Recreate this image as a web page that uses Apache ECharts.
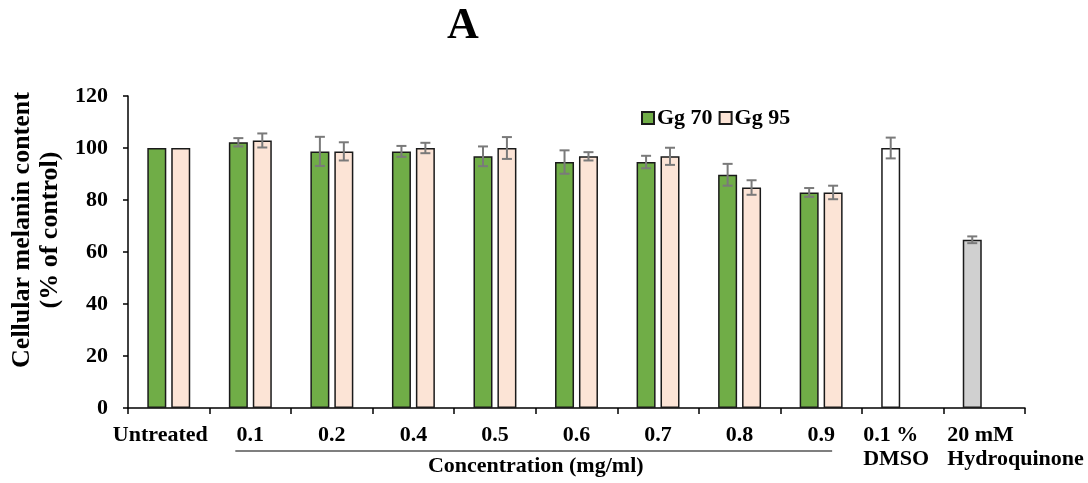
<!DOCTYPE html>
<html><head><meta charset="utf-8">
<script src="https://cdn.jsdelivr.net/npm/echarts@6/dist/echarts.min.js"></script>
<style>html,body{margin:0;padding:0;background:#fff}#c{width:1088px;height:483px}</style>
</head><body><div id="c"></div>
<script>
var categories = ['Untreated','0.1','0.2','0.4','0.5','0.6','0.7','0.8','0.9','0.1 %\nDMSO','20 mM\nHydroquinone'];
var gg70 = [100, 102.2, 98.7, 98.7, 96.8, 94.6, 94.6, 89.7, 82.9];
var gg70Err = [0, 1.6, 5.6, 2.1, 3.8, 4.5, 2.4, 4.2, 1.7];
var gg95 = [100, 102.9, 98.7, 100, 100, 96.8, 96.8, 84.8, 82.9];
var gg95Err = [0, 2.7, 3.5, 2.0, 4.2, 1.6, 3.3, 2.8, 2.6];
var controlNames = ['0.1 %\nDMSO', '20 mM\nHydroquinone'];
var controlValues = [100, 64.7];
var controlErr = [4.0, 1.3];
var controlColors = ['#ffffff', '#d0d0d0'];
var yTicks = [0, 20, 40, 60, 80, 100, 120];

var FONT = '"Liberation Serif", "Times New Roman", serif';
var BAR_W = 19, GAP_PCT = 26;
var OFF = (BAR_W + BAR_W * GAP_PCT / 100) / 2;

var s1 = [], e1 = [], s2 = [], e2 = [];
for (var i = 0; i < categories.length; i++) {
  var ci = controlNames.indexOf(categories[i]);
  if (ci >= 0) {
    s1.push({value: controlValues[ci], itemStyle: {color: controlColors[ci]}});
    e1.push([i, controlValues[ci], controlErr[ci]]);
    s2.push('-');
  } else {
    s1.push(gg70[i]); s2.push(gg95[i]);
    if (gg70Err[i] > 0) e1.push([i, gg70[i], gg70Err[i]]);
    if (gg95Err[i] > 0) e2.push([i, gg95[i], gg95Err[i]]);
  }
}

function errRender(offset) {
  return function (params, api) {
    var x = api.value(0), m = api.value(1), e = api.value(2);
    var hi = api.coord([x, m + e]), lo = api.coord([x, m - e]);
    var cx = hi[0] + offset, w = 5;
    var st = {stroke: '#7a7a7a', lineWidth: 2};
    return {type: 'group', children: [
      {type: 'line', shape: {x1: cx, y1: hi[1], x2: cx, y2: lo[1]}, style: st},
      {type: 'line', shape: {x1: cx - w, y1: hi[1], x2: cx + w, y2: hi[1]}, style: st},
      {type: 'line', shape: {x1: cx - w, y1: lo[1], x2: cx + w, y2: lo[1]}, style: st}
    ]};
  };
}

var lab = {fontFamily: FONT, fontWeight: 'bold', fontSize: 22, color: '#000', lineHeight: 24};
var chart = echarts.init(document.getElementById('c'));
chart.setOption({
  animation: false,
  backgroundColor: '#fff',
  title: {text: 'A', left: 442, top: 0, textStyle: {fontFamily: FONT, fontWeight: 'bold', fontSize: 44, color: '#000'}},
  legend: {
    data: ['Gg 70', 'Gg 95'], left: 636, top: 102, itemWidth: 12, itemHeight: 12, itemGap: 6,
    icon: 'rect',
    textStyle: {fontFamily: FONT, fontWeight: 'bold', fontSize: 22, color: '#000', padding: [0, 0, 0, -2]}
  },
  grid: {left: 128, right: 63, top: 96, bottom: 75, containLabel: false, outerBoundsMode: 'none'},
  xAxis: {
    type: 'category', data: categories,
    axisLine: {lineStyle: {color: '#000', width: 1.5}},
    axisTick: {show: true, interval: 0, length: 6, lineStyle: {color: '#000', width: 1.5}},
    axisLabel: {
      interval: 0, margin: 15, fontFamily: FONT, fontWeight: 'bold', fontSize: 22, color: '#000', lineHeight: 24,
      formatter: function (v) {
        if (v === categories[0]) return '{u|' + v + '}';
        if (v === controlNames[0]) return '{d|0.1 %}\n{d|DMSO}';
        if (v === controlNames[1]) return '{h|20 mM}\n{h|Hydroquinone}';
        return v;
      },
      rich: {
        u: Object.assign({width: 78, align: 'right'}, lab),
        d: Object.assign({width: 79, align: 'left'}, lab),
        h: Object.assign({width: 74, align: 'left'}, lab)
      }
    }
  },
  yAxis: {
    type: 'value', min: 0, max: 120, interval: 20,
    name: 'Cellular melanin content\n(% of control)', nameLocation: 'middle', nameRotate: 90, nameGap: 64,
    nameTextStyle: {fontFamily: FONT, fontWeight: 'bold', fontSize: 26, color: '#000', lineHeight: 28, padding: [0, 0, 0, 44]},
    axisLine: {show: true, lineStyle: {color: '#000', width: 1.5}},
    axisTick: {show: true, length: 5, lineStyle: {color: '#000', width: 1.5}},
    splitLine: {show: false},
    axisLabel: {margin: 20, fontFamily: FONT, fontWeight: 'bold', fontSize: 22, color: '#000',
      formatter: function (v) { return yTicks.indexOf(v) >= 0 ? String(v) : ''; }}
  },
  series: [
    {name: 'Gg 70', type: 'bar', data: s1, barWidth: BAR_W, barGap: GAP_PCT + '%',
      itemStyle: {color: '#70ad47', borderColor: '#1a1a1a', borderWidth: 1.5}},
    {name: 'Gg 95', type: 'bar', data: s2, barWidth: BAR_W, barGap: GAP_PCT + '%',
      itemStyle: {color: '#fce4d6', borderColor: '#1a1a1a', borderWidth: 1.5}},
    {type: 'custom', data: e1, renderItem: errRender(-OFF), z: 10, encode: {x: 0, y: [1]}, silent: true},
    {type: 'custom', data: e2, renderItem: errRender(OFF), z: 10, encode: {x: 0, y: [1]}, silent: true}
  ]
});

var pA = chart.convertToPixel({xAxisIndex: 0}, 1);
var pB = chart.convertToPixel({xAxisIndex: 0}, 8);
chart.setOption({graphic: [
  {type: 'line', shape: {x1: pA - 15, y1: 451, x2: pB + 11, y2: 451}, style: {stroke: '#7f7f7f', lineWidth: 2}},
  {type: 'text', x: (pA + pB) / 2, y: 455, style: {text: 'Concentration (mg/ml)', fontFamily: FONT, fontWeight: 'bold', fontSize: 22, fill: '#000', align: 'center', verticalAlign: 'top'}}
]});
</script></body></html>
